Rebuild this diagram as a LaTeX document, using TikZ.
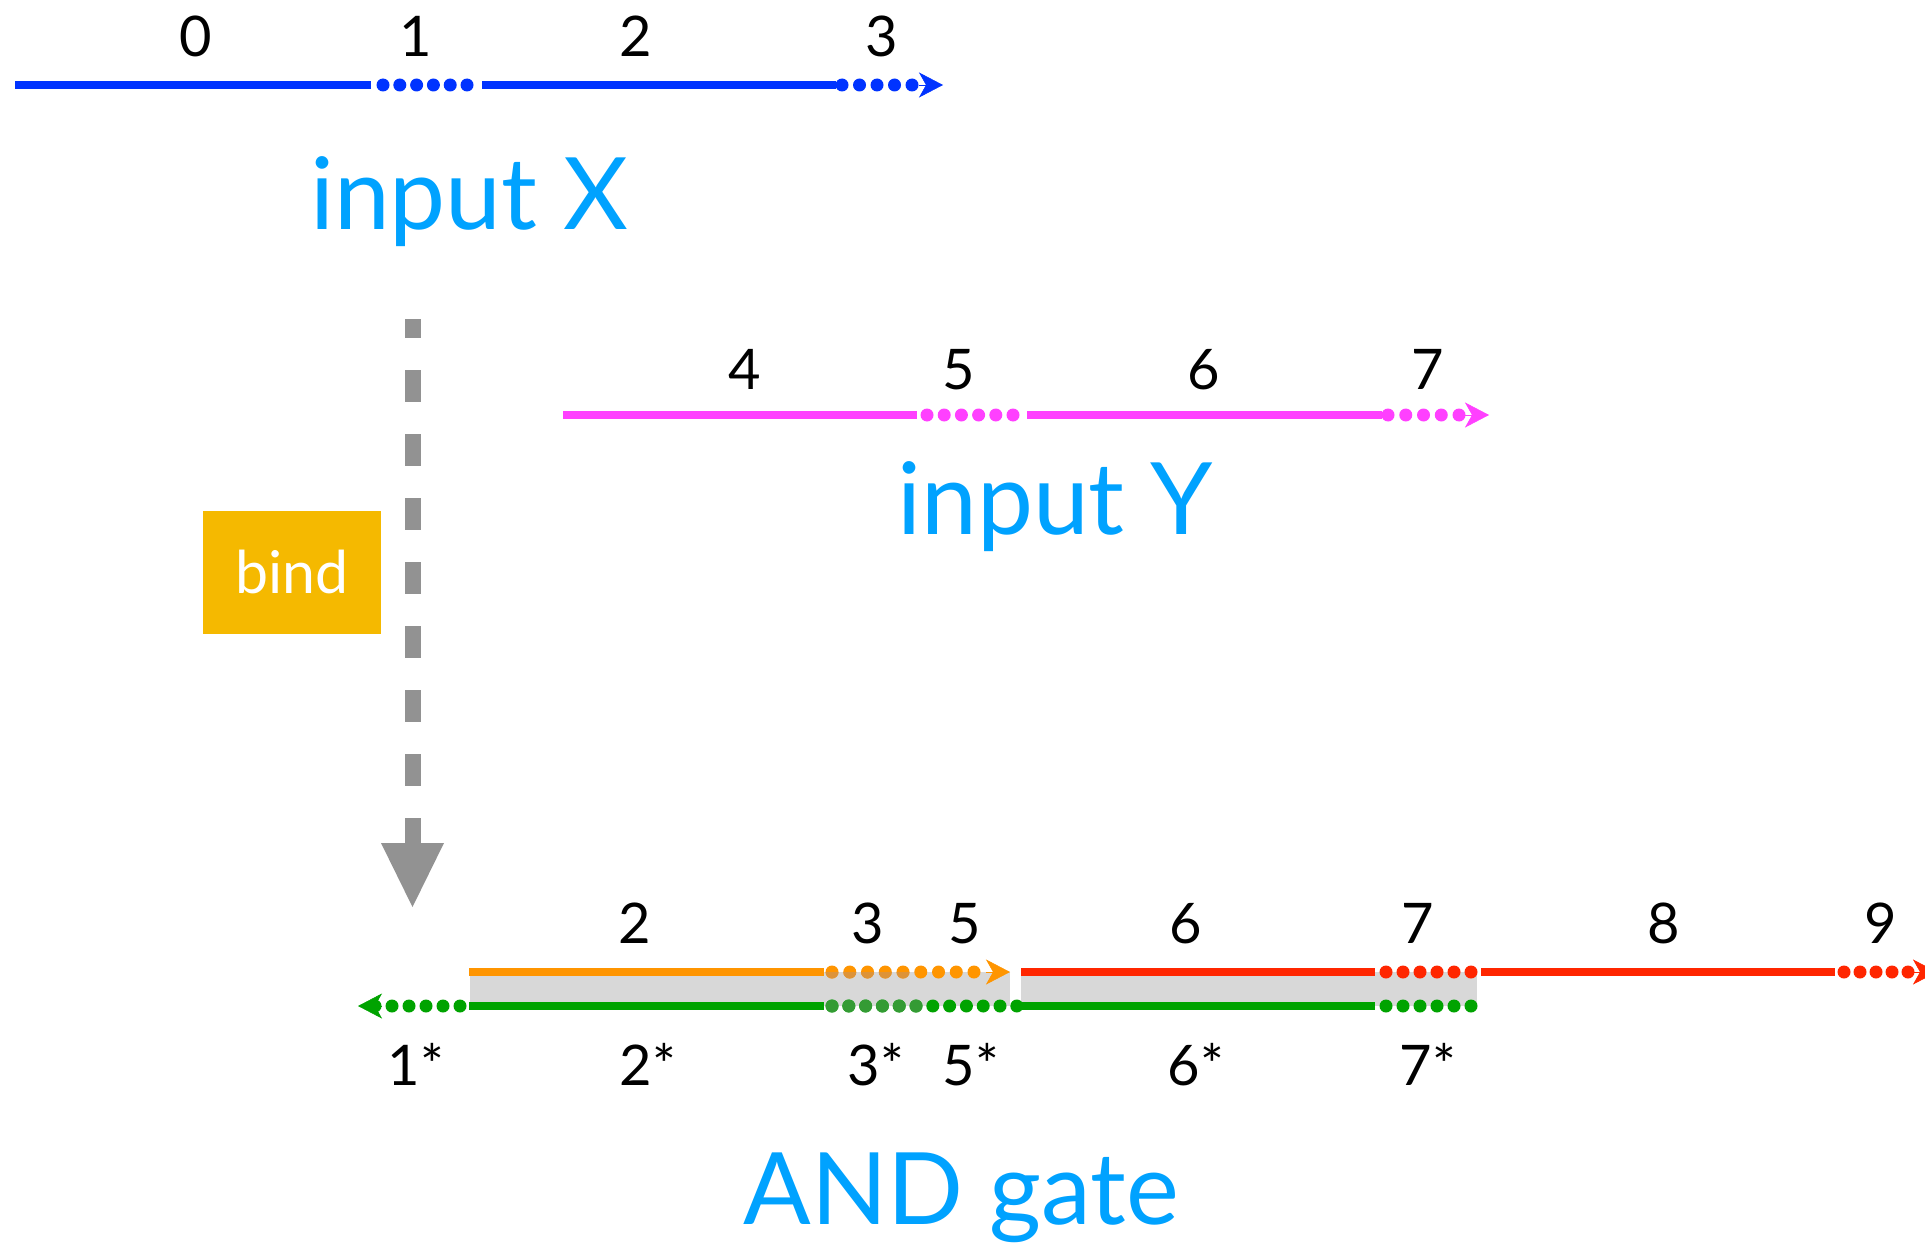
\documentclass[tikz,border=0pt]{standalone}
\usepackage{fontspec}
\setmainfont{Lato}
\usetikzlibrary{arrows.meta}
\definecolor{lineblue}{RGB}{0,51,255}
\definecolor{linepink}{RGB}{255,64,255}
\definecolor{textblue}{RGB}{0,162,255}
\definecolor{lineorange}{RGB}{255,149,0}
\definecolor{linered}{RGB}{255,38,0}
\definecolor{linegreen}{RGB}{0,163,0}
\definecolor{darkorange}{RGB}{221,147,56}
\definecolor{darkgreen}{RGB}{52,155,52}
\definecolor{arrowgrey}{RGB}{146,146,146}
\definecolor{bandgrey}{RGB}{216,216,216}
\definecolor{bindgold}{RGB}{245,185,0}
\newcommand\dotrun[5]{\foreach \k in {0,...,#5} \fill[#1] ({#3+\k*#4},#2) circle (6.5pt);}
\tikzset{
  solidseg/.style={line width=8pt},
  tipseg/.style={line width=0.5pt, -{Stealth[length=24pt,width=25pt,inset=7pt]}},
  numlbl/.style={anchor=base, inner sep=0pt, font=\fontsize{56}{60}\selectfont},
  titlelbl/.style={anchor=base, inner sep=0pt, text=textblue, font=\fontsize{100}{110}\selectfont},
}
\begin{document}
\begin{tikzpicture}[x=1pt,y=-1pt]
\useasboundingbox (0,0) rectangle (1925,1244);
\clip (0,0) rectangle (1925,1244);
\fill[white] (0,0) rectangle (1925,1244);

% ---------- input X ----------
\draw[lineblue, solidseg] (15,85) -- (371,85);
\dotrun{lineblue}{85}{383}{16.8}{5}
\draw[lineblue, solidseg] (482,85) -- (836,85);
\dotrun{lineblue}{85}{842}{17.5}{4}
\coordinate (xtb) at (919,85);
\coordinate (xte) at (943,85);
\draw[lineblue, tipseg] (xtb) -- (xte);
\node[numlbl] (x0) at (196,57) {0};
\node[numlbl] (x1) at (416,57) {1};
\node[numlbl] (x2) at (636,57) {2};
\node[numlbl] (x3) at (882,57) {3};
\node[titlelbl] (inx) at (469,229) {input X};

% ---------- input Y ----------
\draw[linepink, solidseg] (563,415) -- (917,415);
\dotrun{linepink}{415}{927}{17.2}{5}
\draw[linepink, solidseg] (1027,415) -- (1382,415);
\dotrun{linepink}{415}{1388}{17.75}{4}
\coordinate (ytb) at (1465,415);
\coordinate (yte) at (1489,415);
\draw[linepink, tipseg] (ytb) -- (yte);
\node[numlbl] (y4) at (745,389) {4};
\node[numlbl] (y5) at (959,389) {5};
\node[numlbl] (y6) at (1204,389) {6};
\node[numlbl] (y7) at (1428,389) {7};
\node[titlelbl] (iny) at (1055,534) {input Y};

% ---------- bind arrow ----------
\node[fill=bindgold, minimum width=178pt, minimum height=123pt, inner sep=0pt,
      text=white, font=\fontsize{59}{62}\selectfont] (bind) at (291.6,572) {bind};
\coordinate (bt) at (412.5,319);
\coordinate (bb) at (412.5,846);
\draw[arrowgrey, line width=16pt, dash pattern=on 32pt off 32pt, dash phase=13pt] (bt) -- (bb);
\coordinate (hl) at (381,843);
\coordinate (hr) at (444,843);
\coordinate (ht) at (412.5,907);
\fill[arrowgrey] (hl) -- (hr) -- (ht) -- cycle;

% ---------- AND gate ----------
\fill[bandgrey] (470,972) rectangle (1010,1006);
\fill[bandgrey] (1021,972) rectangle (1477,1006);

% orange
\draw[lineorange, solidseg] (469,972) -- (824,972);
\dotrun{lineorange}{972}{832}{17.75}{8}
\coordinate (otb) at (986,972);
\coordinate (ote) at (1010,972);
\draw[lineorange, tipseg] (otb) -- (ote);
% red
\draw[linered, solidseg] (1021,972) -- (1375,972);
\dotrun{linered}{972}{1386}{17}{5}
\draw[linered, solidseg] (1481,972) -- (1835,972);
\dotrun{linered}{972}{1844}{16}{4}
\coordinate (rtb) at (1913,972);
\coordinate (rte) at (1937,972);
\draw[linered, tipseg] (rtb) -- (rte);
% green
\draw[linegreen, solidseg] (469,1006) -- (824,1006);
\dotrun{linegreen}{1006}{832}{16.8}{11}
\draw[linegreen, solidseg] (1021,1006) -- (1375,1006);
\dotrun{linegreen}{1006}{1386}{17}{5}
\dotrun{linegreen}{1006}{375}{17}{5}
\coordinate (gtb) at (382,1006);
\coordinate (gte) at (358,1006);
\draw[linegreen, tipseg] (gtb) -- (gte);
% dots seen through the band where it overlaps
\begin{scope}
  \clip (820,972) rectangle (912,980);
  \dotrun{darkorange}{972}{832}{17.75}{4}
\end{scope}
\begin{scope}
  \clip (820,998) rectangle (924,1014);
  \dotrun{darkgreen}{1006}{832}{16.8}{5}
\end{scope}

\node[numlbl] (a2) at (635,943) {2};
\node[numlbl] (a3) at (868,943) {3};
\node[numlbl] (a5) at (965,943) {5};
\node[numlbl] (a6) at (1186,943) {6};
\node[numlbl] (a7) at (1418,943) {7};
\node[numlbl] (a8) at (1664,943) {8};
\node[numlbl] (a9) at (1881,943) {9};

\node[numlbl] (b1) at (416,1085) {1*};
\node[numlbl] (b2) at (648,1085) {2*};
\node[numlbl] (b3) at (876,1085) {3*};
\node[numlbl] (b5) at (971,1085) {5*};
\node[numlbl] (b6) at (1196,1085) {6*};
\node[numlbl] (b7) at (1428,1085) {7*};

\node[titlelbl] (andg) at (961,1224) {AND gate};
\end{tikzpicture}
\end{document}
